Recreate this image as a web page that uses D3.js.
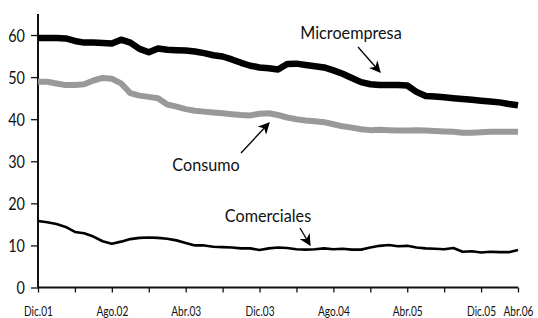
<!DOCTYPE html>
<html>
<head>
<meta charset="utf-8">
<script src="https://cdn.jsdelivr.net/npm/d3@7"></script>
<style>
  html, body { margin: 0; padding: 0; background: #fff; }
  svg text { font-family: Lato, sans-serif; fill: #111; }
</style>
</head>
<body>
<svg id="chart" width="538" height="318"></svg>
<script>
// --- Data (Dic.01 .. Abr.06, monthly) ---
const monthNames = ["Ene", "Feb", "Mar", "Abr", "May", "Jun", "Jul", "Ago", "Sep", "Oct", "Nov", "Dic"];
const months = d3.timeMonth.range(new Date(2001, 11, 1), new Date(2006, 4, 1));

const microempresa = [
    59.3, 59.3, 59.3, 59.2, 58.6, 58.2, 58.2, 58.1, 58.0, 58.9,
    58.2, 56.7, 55.9, 56.8, 56.5, 56.4, 56.3, 56.1, 55.7, 55.2,
    54.9, 54.2, 53.4, 52.7, 52.3, 52.1, 51.8, 53.1, 53.2, 52.9,
    52.6, 52.3, 51.6, 50.8, 49.8, 48.8, 48.3, 48.1, 48.1, 48.1,
    48.0, 46.5, 45.5, 45.4, 45.2, 45.0, 44.8, 44.6, 44.4, 44.2,
    44.0, 43.6, 43.3
];
const consumo = [
    48.9, 48.9, 48.5, 48.1, 48.1, 48.3, 49.2, 49.8, 49.6, 48.5,
    46.2, 45.6, 45.3, 45.0, 43.5, 43.0, 42.4, 42.0, 41.8, 41.6,
    41.4, 41.2, 41.0, 40.9, 41.3, 41.4, 41.0, 40.4, 40.0, 39.7,
    39.5, 39.3, 38.8, 38.3, 38.0, 37.6, 37.4, 37.5, 37.4, 37.3,
    37.3, 37.4, 37.3, 37.2, 37.1, 37.0, 36.8, 36.8, 36.9, 37.0,
    37.0, 37.0, 37.0
];
const comerciales = [
    15.8, 15.5, 15.1, 14.4, 13.2, 12.9, 12.1, 11.0, 10.4, 10.9,
    11.5, 11.8, 11.9, 11.8, 11.6, 11.2, 10.6, 10.0, 10.0, 9.7,
    9.6, 9.5, 9.3, 9.3, 8.9, 9.3, 9.5, 9.4, 9.1, 9.0,
    9.1, 9.3, 9.1, 9.2, 9.0, 9.0, 9.5, 9.9, 10.1, 9.8,
    9.9, 9.5, 9.3, 9.2, 9.1, 9.4, 8.5, 8.6, 8.3, 8.5,
    8.4, 8.4, 8.9
];
const yTicks = [0, 10, 20, 30, 40, 50, 60];
const xTickLabels = ["Dic.01", "Ago.02", "Abr.03", "Dic.03", "Ago.04", "Abr.05", "Dic.05", "Abr.06"];

// --- Layout ---
const width = 538, height = 318;
const margin = { top: 14, right: 20, bottom: 30.5, left: 38 };
const svg = d3.select("#chart");

const label = d => monthNames[d.getMonth()] + "." + String(d.getFullYear()).slice(2);

const x = d3.scaleLinear()
    .domain([0, months.length - 1])
    .range([margin.left, width - margin.right]);

const y = d3.scaleLinear()
    .domain([0, 65])
    .range([height - margin.bottom, margin.top]);

// --- Axes ---
const yAxis = svg.append("g")
    .attr("transform", `translate(${margin.left},0)`)
    .call(d3.axisLeft(y).tickValues(yTicks).tickSize(7).tickPadding(5).tickFormat(d3.format("d")));
yAxis.select(".domain").attr("stroke", "#111").attr("stroke-width", 2)
    .attr("d", `M0,${y(65)}V${y(0)}`);
yAxis.selectAll(".tick line").attr("stroke", "#111").attr("stroke-width", 1.3);
// narrow face: squeeze the glyphs horizontally
yAxis.selectAll(".tick text")
    .attr("font-size", 17)
    .attr("x", -13 / 0.85)
    .attr("transform", "scale(0.85,1)")
    .attr("dy", "0.36em");

const tickIdx = d3.range(0, months.length, 4);
const xAxis = svg.append("g")
    .attr("transform", `translate(0,${y(0)})`)
    .call(d3.axisBottom(x).tickValues(tickIdx).tickSize(5).tickPadding(14)
        .tickFormat(i => xTickLabels.includes(label(months[i])) ? label(months[i]) : ""));
xAxis.select(".domain").attr("stroke", "#111").attr("stroke-width", 2)
    .attr("d", `M${x(0)},0H${x(months.length - 1)}`);
xAxis.selectAll(".tick line").attr("stroke", "#111").attr("stroke-width", 1.3);
xAxis.selectAll(".tick text")
    .attr("font-size", 13.5)
    .attr("transform", "scale(0.75,1)");

// --- Lines ---
const line = d3.line()
    .x((d, i) => x(i))
    .y(d => y(d))
    .curve(d3.curveLinear);

svg.append("path").datum(consumo)
    .attr("fill", "none").attr("stroke", "#999").attr("stroke-width", 6)
    .attr("stroke-linejoin", "round").attr("d", line);

svg.append("path").datum(microempresa)
    .attr("fill", "none").attr("stroke", "#000").attr("stroke-width", 6.5)
    .attr("stroke-linejoin", "round").attr("d", line);

svg.append("path").datum(comerciales)
    .attr("fill", "none").attr("stroke", "#000").attr("stroke-width", 2.6)
    .attr("stroke-linejoin", "round").attr("d", line);

// --- Annotations ---
svg.append("defs").append("marker")
    .attr("id", "head")
    .attr("viewBox", "0 0 10 10")
    .attr("refX", 9).attr("refY", 5)
    .attr("markerWidth", 9).attr("markerHeight", 9)
    .attr("orient", "auto")
    .append("path").attr("d", "M0,0L10,5L0,10L3,5Z").attr("fill", "#000");

const notes = [
    { text: "Microempresa", tx: 351, ty: 39, from: [358, 47], to: [380, 72] },
    { text: "Consumo", tx: 206, ty: 171, from: [241, 153], to: [269, 123] },
    { text: "Comerciales", tx: 268, ty: 222, from: [300, 228], to: [310, 245] }
];

notes.forEach(n => {
    svg.append("text")
        .attr("transform", `translate(${n.tx},${n.ty}) scale(0.9,1)`)
        .attr("text-anchor", "middle")
        .attr("font-size", 18)
        .text(n.text);
    svg.append("line")
        .attr("x1", n.from[0]).attr("y1", n.from[1])
        .attr("x2", n.to[0]).attr("y2", n.to[1])
        .attr("stroke", "#000").attr("stroke-width", 1.3)
        .attr("marker-end", "url(#head)");
});
</script>
</body>
</html>
